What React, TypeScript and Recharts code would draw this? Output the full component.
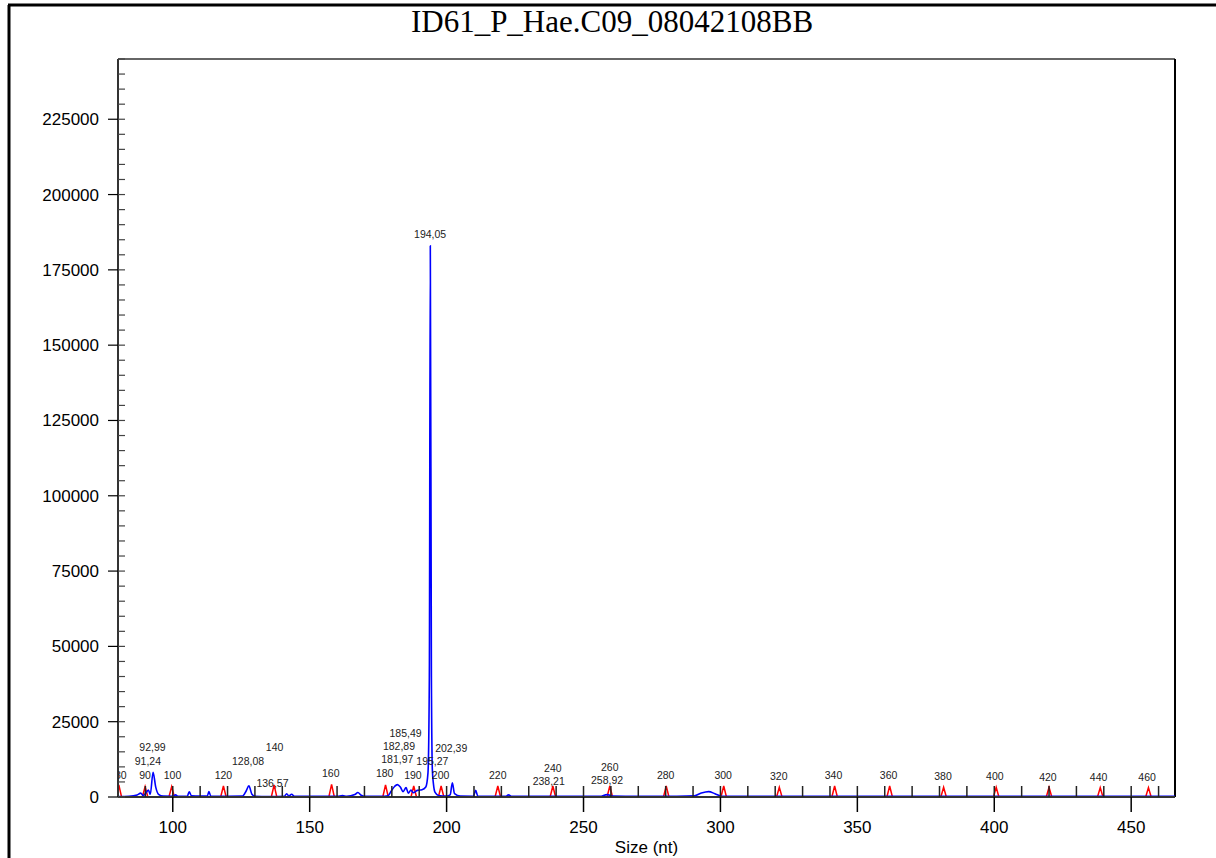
import { ComposedChart, Line, ReferenceLine, Scatter, XAxis, YAxis } from "recharts";

// size standard (red) peaks
const stdSizes = [80.3, 89.9, 99.6, 118.5, 137.0, 158.0, 177.7, 188.0, 198.0, 218.7, 238.8, 259.6, 280.2, 301.2, 321.5, 341.7, 361.8, 381.5, 400.7, 420.0, 438.7, 456.3];
const stdRfu = [4000, 3400, 3400, 3650, 4000, 4200, 4000, 3650, 3650, 3650, 3650, 3650, 3650, 3650, 3200, 3650, 3650, 3200, 3200, 3200, 3100, 3100];

// sample (blue) trace
const blueSizes = [80, 84, 87, 88.3, 89.2, 90.4, 91.1, 91.8, 92.8, 93.8, 94.8, 96.5, 100, 101, 102, 105.3, 106, 106.8, 110, 112.6, 113.2, 113.9, 120, 125.5, 126.8, 127.8, 128.9, 130, 135, 140.8, 141.6, 142.4, 143.4, 144.4, 150, 160, 162, 163.5, 166.5, 167.6, 168.8, 170, 176, 178.6, 179.8, 181, 182, 183.1, 184.1, 185.2, 186, 187, 187.8, 189.3, 191, 192.4, 193.2, 193.7, 194.05, 194.45, 194.8, 195.2, 195.8, 197, 200, 201.3, 202.1, 202.9, 205, 209.8, 210.6, 211.4, 215, 221.6, 222.6, 223.8, 240, 256, 258.6, 260.6, 270, 284, 290.5, 293, 295.7, 298, 300.5, 350, 466];
const blueRfu = [150, 250, 700, 1300, 500, 1600, 2300, 900, 8200, 3200, 900, 300, 250, 700, 250, 250, 1700, 400, 300, 300, 1800, 250, 250, 300, 2000, 3700, 900, 250, 150, 250, 1100, 300, 900, 250, 200, 200, 500, 200, 800, 1500, 600, 200, 200, 400, 2000, 3500, 4100, 3300, 1800, 3100, 1300, 2300, 1400, 2200, 2400, 3300, 8000, 40000, 183000, 40000, 9000, 4300, 1500, 500, 300, 700, 4700, 1100, 300, 250, 2200, 300, 200, 200, 700, 200, 200, 200, 800, 300, 200, 250, 400, 1300, 1800, 1100, 250, 200, 200];

// peak labels
const labelTexts = ["80", "90", "91,24", "92,99", "100", "120", "128,08", "136,57", "140", "160", "180", "181,97", "182,89", "185,49", "190", "194,05", "195,27", "200", "202,39", "220", "238,21", "240", "258,92", "260", "280", "300", "320", "340", "360", "380", "400", "420", "440", "460"];
const labelSizes = [81.0, 89.9, 90.9, 92.6, 99.9, 118.5, 127.5, 136.4, 137.2, 157.7, 177.4, 182.0, 182.6, 185.0, 187.7, 194.0, 194.8, 197.8, 201.7, 218.7, 237.3, 238.8, 258.6, 259.6, 280.0, 301.0, 321.3, 341.3, 361.4, 381.3, 400.2, 419.6, 438.1, 455.8];
const labelRfu = [7300, 7300, 12050, 16500, 7300, 7300, 12050, 4750, 16500, 7870, 7870, 12500, 16930, 21350, 7300, 186900, 12050, 7300, 16370, 7300, 5300, 9730, 5640, 10060, 7300, 7300, 6970, 7300, 7300, 6970, 6970, 6740, 6740, 6740];

const sizeLabels = [100, 150, 200, 250, 300, 350, 400, 450];
const rfuLabels = [0, 25000, 50000, 75000, 100000, 125000, 150000, 175000, 200000, 225000];
const sizeTicks = Array.from({ length: 38 }, (_, i) => 90 + i * 10);
const rfuTicks = Array.from({ length: 50 }, (_, i) => i * 5000);

const sans = "'Liberation Sans', Arial, sans-serif";
const serif = "'Liberation Serif', 'Times New Roman', serif";

const redData = stdSizes.flatMap((s, i) => [
  { size: s - 1, rfu: 0 },
  { size: s, rfu: stdRfu[i] },
  { size: s + 1, rfu: 0 },
]);
const blueData = blueSizes.map((s, i) => ({ size: s, rfu: blueRfu[i] }));
const labelData = labelSizes.map((s, i) => ({ size: s, rfu: labelRfu[i], text: labelTexts[i] }));

function SizeTick(props: any) {
  const { x, y, payload } = props;
  const v = payload.value;
  const major = sizeLabels.includes(v);
  return (
    <g>
      <line x1={x} x2={x} y1={y} y2={y - 11} stroke="#222" strokeWidth={1.5} />
      {major && <line x1={x} x2={x} y1={y} y2={y + 15} stroke="#000" strokeWidth={1.5} />}
      {major && (
        <text x={x} y={y + 36} textAnchor="middle" fontSize={17} fontFamily={sans} fill="#000">
          {v}
        </text>
      )}
    </g>
  );
}

function RfuTick(props: any) {
  const { x, y, payload } = props;
  const v = payload.value;
  const major = rfuLabels.includes(v);
  return (
    <g>
      <line x1={x} x2={x + 7} y1={y} y2={y} stroke="#444" strokeWidth={1.2} />
      {major && <line x1={x - 10} x2={x} y1={y} y2={y} stroke="#000" strokeWidth={1.2} />}
      {major && (
        <text x={x - 19} y={y + 6} textAnchor="end" fontSize={17} fontFamily={sans} fill="#000">
          {v}
        </text>
      )}
    </g>
  );
}

function PeakLabel(props: any) {
  const { cx, cy, payload } = props;
  return (
    <text x={cx} y={cy + 4} textAnchor="middle" fontSize={10.5} fontFamily={sans} fill="#222">
      {payload.text}
    </text>
  );
}

export default function App() {
  return (
    <div style={{ position: "relative", width: 1216, height: 858, background: "#fff", overflow: "hidden" }}>
      <style>{`body{margin:0}`}</style>
      <ComposedChart width={1216} height={858} margin={{ top: 59, right: 41, bottom: 0, left: 0 }}>
        <XAxis
          dataKey="size"
          type="number"
          domain={[80, 466]}
          allowDataOverflow
          ticks={sizeTicks}
          interval={0}
          tickSize={0}
          tickMargin={0}
          tickLine={false}
          tick={SizeTick}
          height={61}
          axisLine={{ stroke: "#333", strokeWidth: 2 }}
          label={{ value: "Size (nt)", position: "insideBottom", offset: 5, fontSize: 17, fontFamily: sans, fill: "#000" }}
        />
        <YAxis
          dataKey="rfu"
          type="number"
          domain={[0, 245000]}
          allowDataOverflow
          ticks={rfuTicks}
          interval={0}
          tickSize={0}
          tickMargin={0}
          tickLine={false}
          tick={RfuTick}
          width={118}
          axisLine={{ stroke: "#333", strokeWidth: 2 }}
        />
        <ReferenceLine y={245000} stroke="#666" strokeWidth={2} />
        <ReferenceLine x={466} stroke="#000" strokeWidth={2} />
        <Line data={redData} dataKey="rfu" type="linear" stroke="#ff0000" strokeWidth={1.5} dot={false} activeDot={false} isAnimationActive={false} />
        <Line data={blueData} dataKey="rfu" type="monotone" stroke="#0000ff" strokeWidth={1.6} dot={false} activeDot={false} isAnimationActive={false} />
        <Scatter data={labelData} dataKey="rfu" shape={PeakLabel} isAnimationActive={false} />
      </ComposedChart>
      <svg width={1216} height={858} style={{ position: "absolute", left: 0, top: 0, pointerEvents: "none" }}>
        <line x1={8} y1={5} x2={1216} y2={5} stroke="#000" strokeWidth={3} />
        <line x1={9} y1={5} x2={9} y2={858} stroke="#000" strokeWidth={3} />
        <text x={612} y={32} textAnchor="middle" fontSize={31} fontFamily={serif} fill="#000">
          ID61_P_Hae.C09_08042108BB
        </text>
      </svg>
    </div>
  );
}
